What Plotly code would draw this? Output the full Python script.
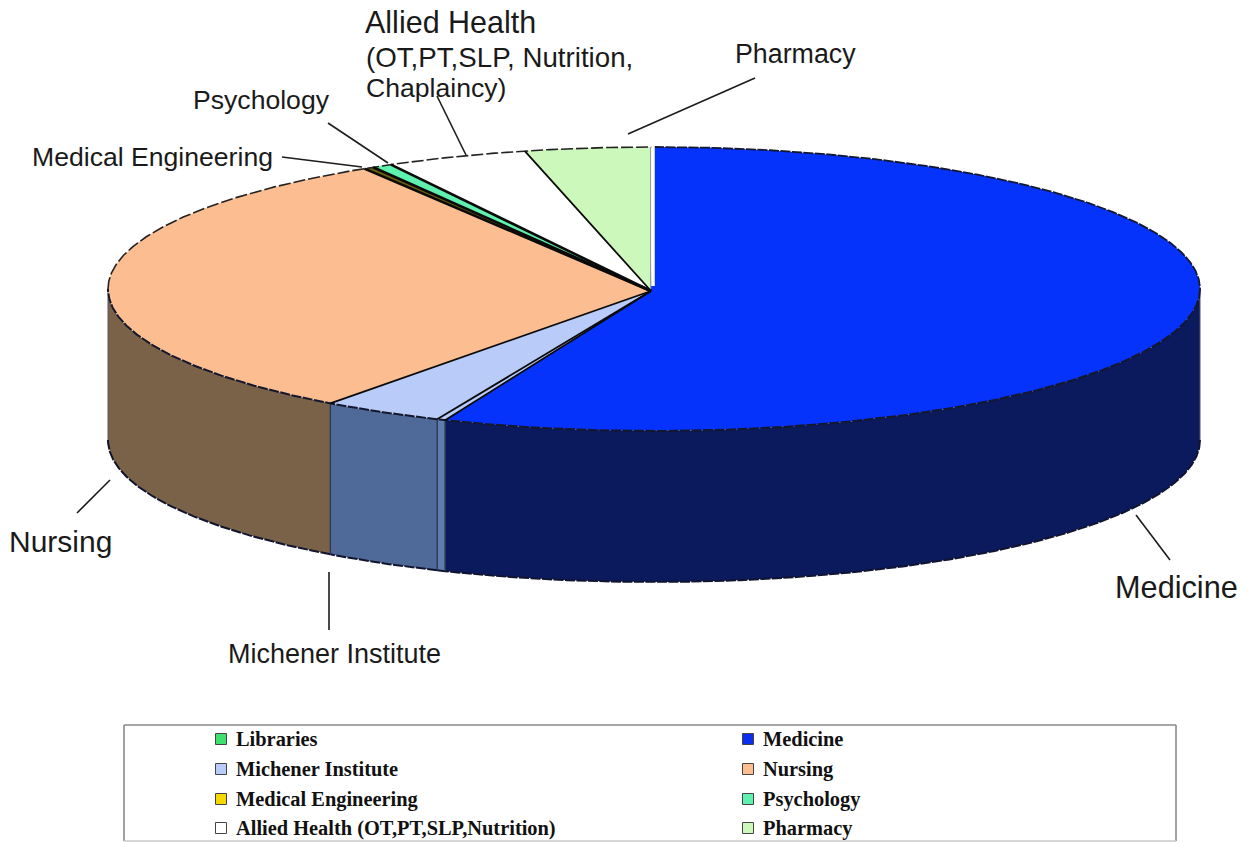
import numpy as np
import plotly.graph_objects as go

# ---- data (percent of the pie, clockwise from 12 o'clock)
slices = ["Medicine", "Libraries", "Michener Institute", "Nursing",
          "Medical Engineering", "Psychology", "Allied Health", "Pharmacy"]
values = [56.25, 0.25, 3.6, 31.0, 0.3, 0.6, 4.2, 3.8]
top_colors = ["#0533fb", "#b9cbf8", "#b9cbf8", "#fcbd90", "#6a5c10", "#5ef2ae", "#ffffff", "#ccf8bc"]
side_colors = ["#0b1a5c", "#5f7cac", "#4f6a98", "#7a6248", "#6a6000", "#2f7957", "#808080", "#667c5e"]

legend_labels = ["Libraries", "Michener Institute", "Medical Engineering",
                 "Allied Health (OT,PT,SLP,Nutrition)",
                 "Medicine", "Nursing", "Psychology", "Pharmacy"]
legend_colors = ["#3fe070", "#b9cbf8", "#f5d800", "#ffffff",
                 "#0a2ff0", "#fcbd90", "#5ef2ae", "#ccf8bc"]

# ---- geometry of the tilted pie
W, H = 1248, 842
CX, CY, RX, RY, DEPTH = 654, 289, 546, 142, 151
APEX_X, APEX_Y = 651, 291


def rim(a0, a1, drop=0):
    t = np.radians(np.linspace(a0, a1, max(2, int(abs(a1 - a0) * 3) + 2)))
    return CX + RX * np.sin(t), CY - RY * np.cos(t) + drop


edges = np.concatenate([[0], np.cumsum(values)]) * 3.6
fig = go.Figure()


def path(x, y, color=None, line=None, width=1.5, dash=None, fill=False):
    fig.add_trace(go.Scatter(
        x=list(x), y=list(y), mode="lines",
        fill="toself" if fill else None,
        fillcolor=color if fill else None,
        line=dict(color=line or "rgba(0,0,0,0)", width=width if line else 0, dash=dash),
        hoverinfo="skip", showlegend=False))


# side walls (front half only)
for i in range(len(values)):
    a0, a1 = max(edges[i], 90), min(edges[i + 1], 270)
    if a1 <= a0:
        continue
    x, y = rim(a0, a1)
    xb, yb = rim(a0, a1, DEPTH)
    path(np.r_[x, xb[::-1]], np.r_[y, yb[::-1]], color=side_colors[i], fill=True)
    path(xb, yb, line="#10142e", width=2, dash="10px,1.5px")
    for a in (a0, a1):
        if a < 270 and a > 90:
            xe, ye = rim(a, a + 0.001)
            path([xe[0], xe[0]], [ye[0], ye[0] + DEPTH], line="#2b3550", width=1.2)

# outer vertical edges of the wall
for a in (90, 270):
    xe, ye = rim(a, a + 0.001)
    path([xe[0], xe[0]], [ye[0], ye[0] + DEPTH], line="#555566", width=1)

# top faces
for i in range(len(values)):
    x, y = rim(edges[i], edges[i + 1])
    path(np.r_[APEX_X, x, APEX_X], np.r_[APEX_Y, y, APEX_Y], color=top_colors[i], fill=True)

# rims of the top face
xf, yf = rim(90, 270)
path(xf, yf, line="#14182e", width=2, dash="10px,1.5px")
xr, yr = rim(270, 360)
path(xr, yr, line="#222222", width=1.6, dash="12px,3px")
xr, yr = rim(0, 90)
path(xr, yr, line="#14182e", width=1.8, dash="10px,1.5px")

# spokes between the slices
for i in range(1, len(values)):
    xe, ye = rim(edges[i], edges[i] + 0.001)
    wid = 2.6 if i in (4, 5, 6) else 1.8
    path([APEX_X, xe[0]], [APEX_Y, ye[0]], line="#0a0a0a", width=wid)

# the gap beside Medicine at 12 o'clock
xe, ye = rim(0, 0.001)
path([xe[0] - 1, xe[0] - 1], [ye[0] - 1, APEX_Y - 5], line="#ffffff", width=3.5)
path([xe[0] - 3.5, xe[0] - 3.5], [ye[0], APEX_Y - 2], line="#9a9a9a", width=1)

# callout labels
labels = [
    ("Allied Health", 363, 22, 30.5),
    ("(OT,PT,SLP, Nutrition,", 364, 57, 27.7),
    ("Chaplaincy)", 364, 88, 26.6),
    ("Pharmacy", 733, 54, 26.8),
    ("Psychology", 191, 100, 26.6),
    ("Medical Engineering", 30, 157, 26.6),
    ("Nursing", 7, 541, 30),
    ("Medicine", 1113, 587, 30.7),
    ("Michener Institute", 226, 654, 27),
]
leaders = [
    (628, 134, 755, 78), (437, 96, 466, 155), (328, 123, 388, 163),
    (282, 157, 362, 167), (77, 513, 110, 480), (1136, 515, 1170, 560),
    (329, 572, 329, 630),
]
shapes = [dict(type="line", x0=a, y0=b, x1=c, y1=d, xref="x", yref="y",
               line=dict(color="#1c1c1c", width=1.6)) for a, b, c, d in leaders]
for a, b, c, d, col in [(124, 725, 1176, 725, "#8a8a8a"), (124, 725, 124, 841, "#8a8a8a"),
                        (1176, 725, 1176, 841, "#8a8a8a"), (124, 841, 1176, 841, "#c8c8c8")]:
    shapes.append(dict(type="line", x0=a, y0=b, x1=c, y1=d, xref="x", yref="y",
                       line=dict(color=col, width=1.6)))

annotations = [dict(text=t, x=x, y=y, xref="x", yref="y", xanchor="left", yanchor="middle",
                    showarrow=False, font=dict(family="Liberation Sans", size=s, color="#1a1a1a"))
               for t, x, y, s in labels]

# legend
leg_x = [221, 221, 221, 221, 748, 748, 748, 748]
leg_y = [739, 769, 799, 828, 739, 769, 799, 828]
fig.add_trace(go.Scatter(
    x=leg_x, y=leg_y, mode="markers", hoverinfo="skip", showlegend=False,
    marker=dict(symbol="square", size=11, color=legend_colors,
                line=dict(color="#444444", width=1))))
for t, x, y in zip(legend_labels, leg_x, leg_y):
    annotations.append(dict(text=f"<b>{t}</b>", x=x + 13, y=y, xref="x", yref="y",
                            xanchor="left", yanchor="middle", showarrow=False,
                            font=dict(family="Liberation Serif", size=20.4, color="#111111")))

fig.update_layout(
    width=W, height=H, margin=dict(l=0, r=0, t=0, b=0),
    paper_bgcolor="white", plot_bgcolor="white", showlegend=False,
    xaxis=dict(range=[0, W], visible=False, fixedrange=True),
    yaxis=dict(range=[H, 0], visible=False, fixedrange=True),
    shapes=shapes, annotations=annotations)

fig.write_html("out.html", config={"displayModeBar": False},
               post_script="document.body.style.margin='0';document.body.style.overflow='hidden';")
